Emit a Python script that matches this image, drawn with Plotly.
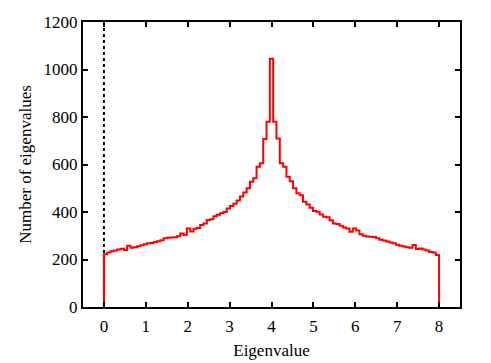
import plotly.graph_objects as go

# Histogram of eigenvalues: 101 equal-width bins spanning [0, 8]
BIN_START = 0.0
BIN_END = 8.0
counts = [
    222, 230, 235, 238, 242, 245, 240, 258, 250, 252,
    256, 260, 264, 268, 270, 274, 277, 281, 290, 292,
    293, 294, 298, 310, 303, 331, 318, 330, 333, 345,
    352, 366, 370, 382, 388, 395, 400, 415, 425, 435,
    448, 465, 482, 500, 527, 542, 591, 605, 707, 780,
    1045, 780, 710, 605, 591, 548, 530, 500, 479, 471,
    443, 432, 418, 404, 401, 390, 380, 378, 365, 352,
    350, 342, 335, 331, 317, 331, 322, 306, 300, 297,
    296, 295, 290, 283, 280, 276, 272, 268, 262, 258,
    255, 252, 250, 261, 244, 246, 242, 238, 232, 230,
    219,
]
x_ticks = [0, 1, 2, 3, 4, 5, 6, 7, 8]
y_ticks = [0, 200, 400, 600, 800, 1000, 1200]

n = len(counts)
w = (BIN_END - BIN_START) / n
edges = [BIN_START + i * w for i in range(n + 1)]

# step outline: start at 0, go up, across each bin, back to 0
xs = [edges[0]] + edges[:-1] + [edges[-1], edges[-1]]
ys = [0] + counts + [counts[-1], 0]

fig = go.Figure()
fig.add_trace(go.Scatter(
    x=[0, 0], y=[0, 1200], mode="lines",
    line=dict(color="black", width=2, dash="dot"), hoverinfo="skip"))
fig.add_trace(go.Scatter(
    x=xs, y=ys, mode="lines", line_shape="hv",
    line=dict(color="#ff0000", width=2), hoverinfo="skip"))

font = dict(family="Liberation Serif", size=17, color="black")
# page body has an 8px margin, so the figure is sized to fit inside the window
fig.update_layout(
    width=483, height=355,
    margin=dict(l=75, r=31, t=14, b=56),
    paper_bgcolor="white", plot_bgcolor="white",
    showlegend=False, font=font,
)
fig.update_xaxes(
    range=[-0.5, 8.5], tickvals=x_ticks, ticks="inside", ticklen=5, tickwidth=2,
    tickcolor="black", showline=True, linecolor="black", linewidth=2, mirror="ticks",
    showgrid=False, zeroline=False, automargin=False, ticklabelstandoff=3,
    title=dict(text="Eigenvalue", font=font, standoff=9),
)
fig.update_yaxes(
    range=[0, 1200], tickvals=y_ticks, ticks="inside", ticklen=5, tickwidth=2,
    tickcolor="black", showline=True, linecolor="black", linewidth=2, mirror="ticks",
    showgrid=False, zeroline=False, automargin=False,
    title=dict(text="Number of eigenvalues", font=font, standoff=8),
)
fig.write_html("out.html")
